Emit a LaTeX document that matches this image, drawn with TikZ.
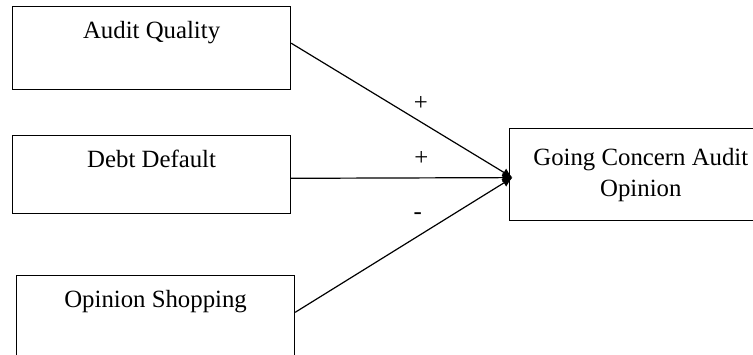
\documentclass[tikz,border=0pt]{standalone}
\usepackage{fontspec}
\setmainfont{Liberation Serif}
\usetikzlibrary{positioning,arrows.meta}
\tikzset{
  mainbox/.style={rectangle, draw, line width=0.6pt, inner sep=0pt, minimum width=139pt,
                  text height=15.7pt, font=\fontsize{12.4}{15.5}\selectfont},
  endbox/.style={rectangle, draw, line width=0.6pt, minimum width=131pt, minimum height=46pt,
                 align=center, font=\fontsize{12.4}{15.5}\selectfont},
  fwd/.style={-{Latex[length=5pt,width=4.5pt]}, line width=0.6pt},
  sign/.style={inner sep=0pt, font=\fontsize{12.4}{15.5}\selectfont},
}

\begin{document}
\begin{tikzpicture}[x=0.5pt, y=-0.5pt]
  \useasboundingbox (0,0) rectangle (753,354);
  \node[mainbox, text depth=25.7pt, anchor=north west] (node1) at (12,6) {Audit Quality};
  \node[mainbox, text depth=23.3pt] (node2) [below=22.6pt of node1] {Debt Default};
  \node[mainbox, text depth=30pt] (node3) [below=30.3pt of node2, xshift=2pt] {Opinion Shopping};
  \node[endbox] (node4) [right=109pt of node2] {Going Concern Audit\\Opinion};
  \coordinate (tip) at ([xshift=1.6pt, yshift=-1.4pt]node4.west);

  \draw[fwd] ([yshift=2.4pt]node1.east) -- (tip) node[sign, pos=0.586, yshift=9.25pt] (sign1) {+};
  \draw[fwd] ([yshift=-1.75pt]node2.east) -- (tip) node[sign, pos=0.588, yshift=9.5pt] (sign2) {+};
  \draw[fwd] ([yshift=4.5pt]node3.east) -- (tip) node[sign, pos=0.564, yshift=10pt] (sign3) {-};
\end{tikzpicture}
\end{document}
